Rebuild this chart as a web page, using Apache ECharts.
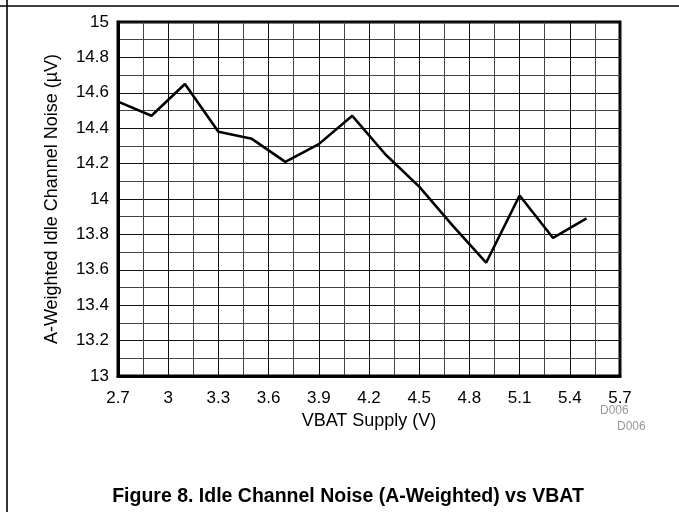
<!DOCTYPE html>
<html>
<head>
<meta charset="utf-8">
<script src="https://cdn.jsdelivr.net/npm/echarts@6/dist/echarts.min.js"></script>
<style>
html,body{margin:0;padding:0;background:#fff;}
#chart{width:679px;height:512px;}
</style>
</head>
<body>
<div id="chart"></div>
<script>
const vbat = [2.7, 2.9, 3.1, 3.3, 3.5, 3.7, 3.9, 4.1, 4.3, 4.5, 4.7, 4.9, 5.1, 5.3, 5.5];
const noise = [14.55, 14.47, 14.65, 14.38, 14.34, 14.21, 14.31, 14.47, 14.25, 14.07, 13.85, 13.64, 14.02, 13.78, 13.89];
const xTitle = 'VBAT Supply (V)';
const yTitle = 'A-Weighted Idle Channel Noise (\u00B5V)';
const figTitle = 'Figure 8. Idle Channel Noise (A-Weighted) vs VBAT';
const code = 'D006';

const chart = echarts.init(document.getElementById('chart'), null, {renderer: 'canvas'});
const font = 'Arial, "Liberation Sans", sans-serif';
chart.setOption({
  animation: false,
  backgroundColor: '#fff',
  grid: {left: 118, top: 22, right: 59, bottom: 136, show: true, borderColor: '#000', borderWidth: 3, backgroundColor: 'transparent'},
  xAxis: {
    type: 'value', min: 2.7, max: 5.7, interval: 0.3,
    name: xTitle, nameLocation: 'middle', nameGap: 33,
    nameTextStyle: {fontFamily: font, fontSize: 18, color: '#000'},
    axisLine: {show: true, lineStyle: {color: '#000', width: 3}},
    axisTick: {show: false},
    axisLabel: {margin: 14, fontFamily: font, fontSize: 17, color: '#000', formatter: v => String(+v.toFixed(1))},
    splitLine: {show: true, lineStyle: {color: '#111', width: 1}},
    minorTick: {show: false, splitNumber: 2},
    minorSplitLine: {show: true, lineStyle: {color: '#444', width: 1}}
  },
  yAxis: {
    type: 'value', min: 13, max: 15, interval: 0.2,
    name: yTitle, nameLocation: 'middle', nameGap: 57, nameRotate: 90,
    nameTextStyle: {fontFamily: font, fontSize: 18, color: '#000'},
    axisLine: {show: true, lineStyle: {color: '#000', width: 3}},
    axisTick: {show: false},
    axisLabel: {margin: 9, fontFamily: font, fontSize: 17, color: '#000', formatter: v => String(+v.toFixed(1))},
    splitLine: {show: true, lineStyle: {color: '#111', width: 1}},
    minorTick: {show: false, splitNumber: 2},
    minorSplitLine: {show: true, lineStyle: {color: '#444', width: 1}}
  },
  series: [{
    type: 'line',
    data: vbat.map((x, i) => [x, noise[i]]),
    showSymbol: false,
    symbol: 'none',
    lineStyle: {color: '#000', width: 2.6},
    z: 5
  }],
  graphic: [
    {type: 'line', shape: {x1: 0, y1: 6, x2: 679, y2: 6}, style: {stroke: '#000', lineWidth: 1.6}},
    {type: 'line', shape: {x1: 7, y1: 0, x2: 7, y2: 512}, style: {stroke: '#000', lineWidth: 1.6}},
    {type: 'text', left: 600, top: 405, style: {text: code, fontFamily: font, fontSize: 12, fill: '#999'}},
    {type: 'text', left: 617, top: 421, style: {text: code, fontFamily: font, fontSize: 12, fill: '#999'}},
    {type: 'text', x: 348, y: 497, style: {text: figTitle, fontFamily: font, fontSize: 19.5, fontWeight: 'bold', fill: '#000', textAlign: 'center', textVerticalAlign: 'middle'}}
  ]
});
</script>
</body>
</html>
